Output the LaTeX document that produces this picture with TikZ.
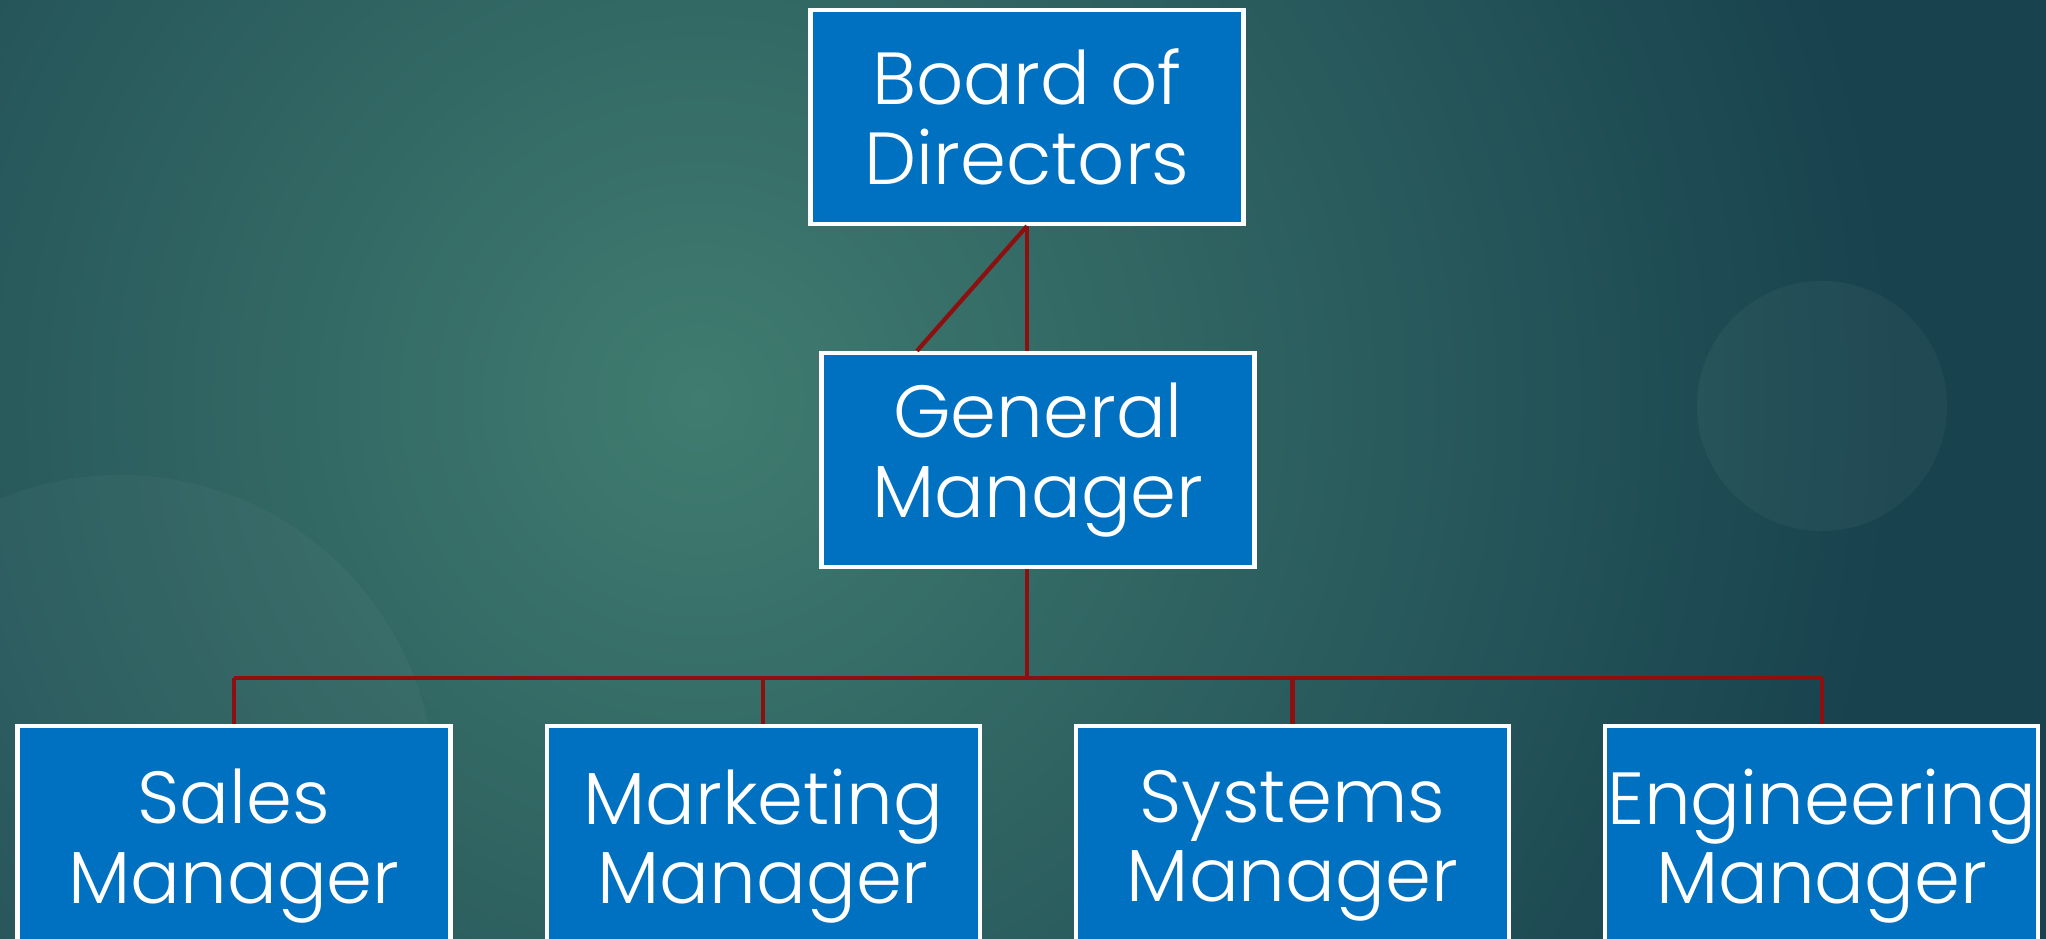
\documentclass[tikz,border=0pt]{standalone}
\usepackage{fontspec}
\setmainfont{Poppins}[UprightFont=* Light]
\usetikzlibrary{positioning, calc}
\definecolor{BoxBlue}{RGB}{0,112,192}
\definecolor{LinkRed}{RGB}{140,16,16}
\definecolor{BgLight}{RGB}{64,124,112}
\definecolor{BgDark}{RGB}{24,66,78}
\tikzset{
    orgbox/.style={
        draw=white, line width=1.2pt, fill=BoxBlue, text=white,
        minimum width=4.33cm, minimum height=2.14cm, inner sep=0pt,
        align=center, font=\fontsize{21}{22.6}\selectfont
    },
    link/.style={
        line width=1.2pt, LinkRed
    }
}
\begin{document}
\begin{tikzpicture}
    \useasboundingbox (0,0) rectangle (20.46,9.39);
    % background
    \begin{scope}
        \clip (0,0) rectangle (20.46,9.39);
        \fill[BgDark] (0,0) rectangle (20.46,9.39);
        \shade[inner color=BgLight, outer color=BgDark] (7,5.4) circle (12);
        \fill[white, opacity=0.03] (1.2,1.49) circle (3.15);
        \fill[white, opacity=0.04] (18.22,5.33) circle (1.25);
    \end{scope}

    \node[orgbox] (board) at (10.27,8.22) {Board of\\Directors};
    \node[orgbox] (gm) at (10.38,4.79) {General\\Manager};
    % bottom row runs off the lower edge
    \node[orgbox, minimum height=2.4cm] (sales) at (2.34,0.93) {Sales\\Manager};
    \node[orgbox, minimum height=2.4cm, right=0.92cm of sales] (mkt) {Marketing\\Manager};
    \node[orgbox, minimum height=2.4cm, right=0.92cm of mkt] (sys) {Systems\\Manager};
    \node[orgbox, minimum height=2.4cm, right=0.92cm of sys] (eng) {Engineering\\Manager};

    \coordinate (bar) at (board.south |- 0,2.61);
    \draw[link] (board.south) -- (board.south |- gm.north);
    \draw[link] (board.south) -- ([xshift=-1.21cm]gm.north);
    \draw[link] (board.south |- gm.south) -- (bar);
    \draw[link] (sales.north |- bar) -- (eng.north |- bar);
    \foreach \n in {sales, mkt, sys, eng}
        \draw[link] (\n.north |- bar) -- (\n.north);
\end{tikzpicture}
\end{document}
